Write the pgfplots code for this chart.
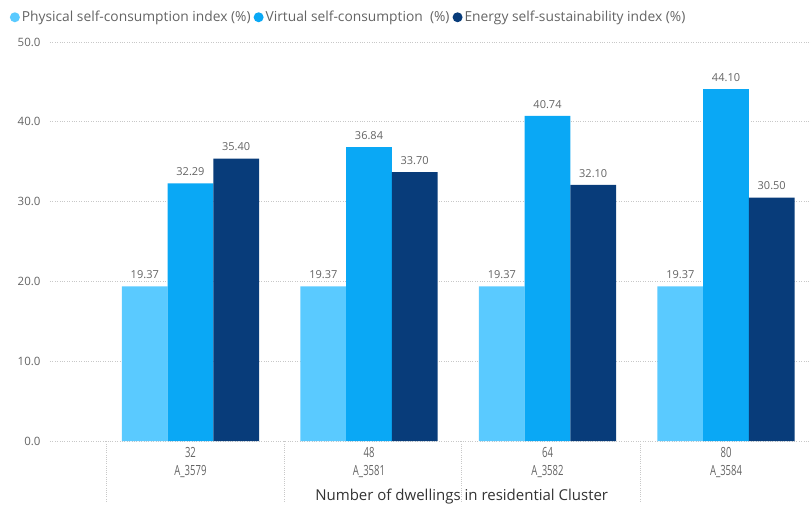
\documentclass[border=0pt]{standalone}
\usepackage{pgfplots}
\pgfplotsset{compat=1.18}
\usepackage{fontspec}
\setmainfont{Open Sans}
\newfontfamily\condfont{Open Sans}[FakeStretch=0.68]
\definecolor{cLight}{RGB}{90,202,255}
\definecolor{cMid}{RGB}{10,168,245}
\definecolor{cDark}{RGB}{8,60,122}
\definecolor{gridc}{RGB}{200,200,200}
\definecolor{txt}{RGB}{100,100,100}
\begin{document}
\begin{tikzpicture}
\path[use as bounding box] (-50pt,-65pt) rectangle (761pt,441pt);
\begin{axis}[
  at={(0,0)}, anchor=south west,
  scale only axis,
  width=761pt, height=399pt,
  ymin=0, ymax=50,
  xmin=-0.787, xmax=3.476,
  ytick={0,10,20,30,40,50},
  yticklabel style={font=\fontsize{11.5}{13}\selectfont, color=txt, xshift=-6pt, /pgf/number format/.cd, fixed, fixed zerofill, precision=1},
  /pgf/number format/assume math mode=true,
  ymajorgrids,
  grid style={gridc, dotted, line width=0.8pt},
  axis line style={draw=none},
  major tick length=0pt,
  xtick pos=bottom,
  xtick={0,1,2,3},
  xticklabels={{32\\A\_3579},{48\\A\_3581},{64\\A\_3582},{80\\A\_3584}},
  xticklabel style={align=center, font=\condfont\fontsize{14}{18}\selectfont, color=txt, yshift=-3pt},
  extra x ticks={-0.47,0.524,1.52,2.52},
  extra x tick labels={},
  extra x tick style={grid=none, tick align=outside, tick pos=bottom, major tick length=60pt, tick style={gridc, dotted, line width=0.8pt}},
  xlabel={Number of dwellings in residential Cluster},
  xlabel style={font=\fontsize{15}{17}\selectfont, color=black!80, at={(axis description cs:0.541,0)}, anchor=center, yshift=-56pt},
  ybar, bar width=0.256,
  nodes near coords,
  nodes near coords style={font=\fontsize{11}{12}\selectfont, color=txt, yshift=4pt, /pgf/number format/.cd, fixed, fixed zerofill, precision=2, assume math mode=true},
  legend columns=3,
  legend style={at={(axis description cs:-0.053,1.062)}, anchor=west, draw=none, fill=none, font=\fontsize{13.8}{16}\selectfont, text=txt, inner xsep=0pt, /tikz/every even column/.append style={column sep=1pt}},
  legend cell align=left,
  legend image code/.code={\fill[#1] (0.1cm,0) circle (5pt);},
  clip=false,
]
\addplot[fill=cLight, draw=none, bar shift=-0.256] coordinates {(0,19.37) (1,19.37) (2,19.37) (3,19.37)};
\addplot[fill=cMid, draw=none, bar shift=0] coordinates {(0,32.29) (1,36.84) (2,40.74) (3,44.10)};
\addplot[fill=cDark, draw=none, bar shift=0.256] coordinates {(0,35.40) (1,33.70) (2,32.10) (3,30.50)};
\legend{Physical self-consumption index (\%),Virtual self-consumption~ (\%),Energy self-sustainability index (\%)}
\end{axis}
\end{tikzpicture}
\end{document}
